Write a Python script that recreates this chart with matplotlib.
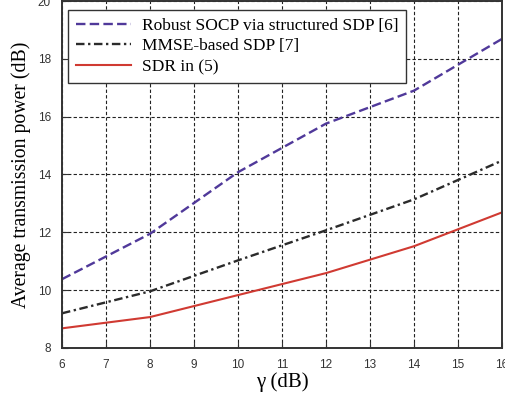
import matplotlib
matplotlib.use("Agg")
import matplotlib.pyplot as plt

gamma = [6, 8, 10, 12, 14, 16]
robust = [10.38, 11.95, 14.08, 15.76, 16.9, 18.69]
mmse = [9.2, 9.96, 11.03, 12.07, 13.14, 14.48]
sdr = [8.68, 9.07, 9.83, 10.59, 11.52, 12.69]
labels = ["Robust SOCP via structured SDP [6]", "MMSE-based SDP [7]", "SDR in (5)"]

fig = plt.figure(figsize=(5.06, 4.04), dpi=100)
ax = fig.add_axes([62/506, 56/404, 440/506, 347/404])

ax.plot(gamma, robust, color="#50399a", lw=1.7, dashes=(4, 1.8), label=labels[0])
ax.plot(gamma, mmse, color="#2b2b2b", lw=1.7, dashes=(3.6, 1.5, 1.0, 1.5), label=labels[1])
ax.plot(gamma, sdr, color="#d03a32", lw=1.5, label=labels[2])

ax.set_xlim(6, 16)
ax.set_ylim(8, 20)
ax.set_xticks(range(6, 17))
ax.set_yticks(range(8, 21, 2))
ax.grid(True, color="#222222", ls=(0, (3, 2)), lw=0.8)
ax.tick_params(direction="in", length=4, labelsize=8.5, colors="#333333", labelcolor="#333333")
for lab in ax.get_xticklabels() + ax.get_yticklabels():
    lab.set_family("Liberation Sans")
ax.tick_params(axis="x", pad=8)
ax.tick_params(axis="y", pad=8)
for s in ax.spines.values():
    s.set_linewidth(1.4)
    s.set_color("#333333")

ax.set_xlabel("γ (dB)", family="Liberation Serif", fontsize=15, labelpad=1)
ax.set_ylabel("Average transmission power (dB)", family="Liberation Serif", fontsize=14.2, labelpad=5)

leg = ax.legend(loc="upper left", bbox_to_anchor=(6/440, 1-9/347), prop={"family": "Liberation Serif", "size": 12.5},
                fancybox=False, framealpha=1, edgecolor="#333333", handlelength=3.2, borderaxespad=0,
                labelspacing=0.25, handletextpad=0.6, borderpad=0.45)
leg.get_frame().set_linewidth(1.0)

fig.savefig("out.png", dpi=100)
